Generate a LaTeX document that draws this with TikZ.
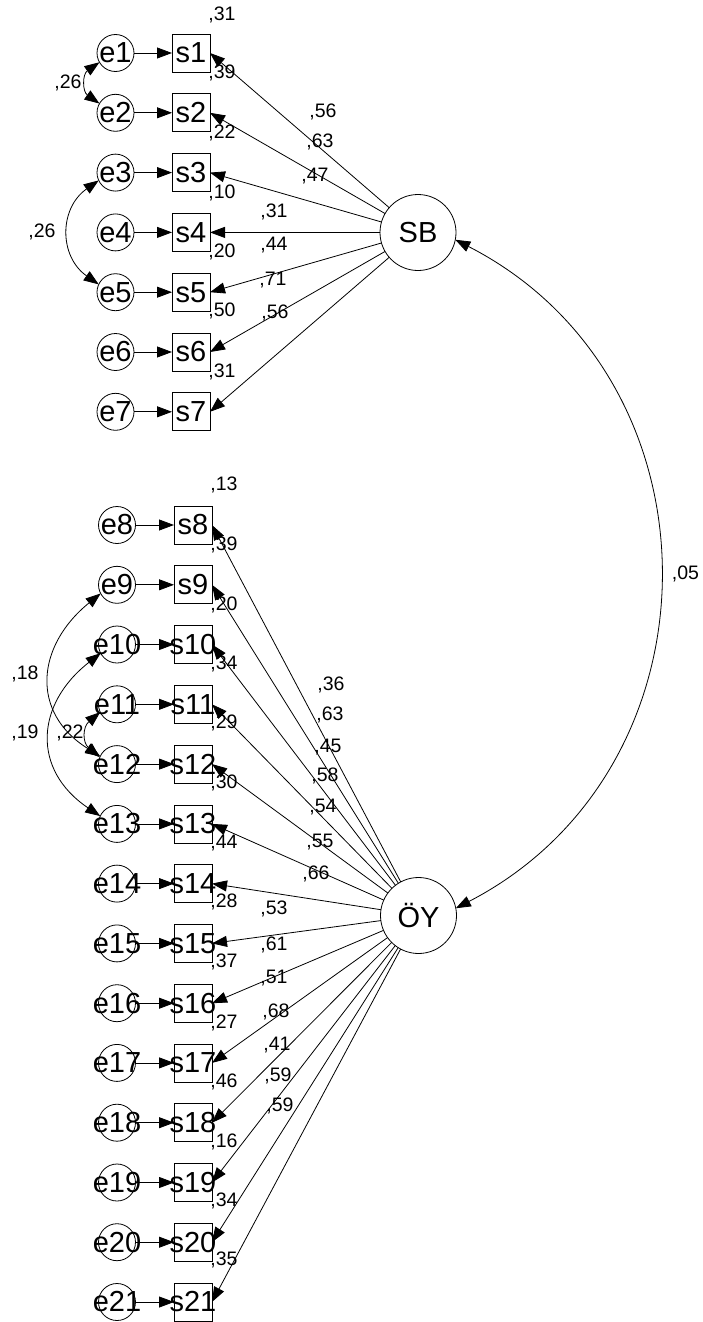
\documentclass[tikz,border=0pt]{standalone}
\usepackage{fontspec}
\setmainfont{Liberation Sans}
\usetikzlibrary{arrows.meta}
\begin{document}
\begin{tikzpicture}[x=1pt,y=1pt,
  every node/.style={inner sep=0pt, outer sep=0pt},
  big/.style={font=\fontsize{29}{29}\selectfont},
  lbl/.style={font=\fontsize{19.5}{19.5}\selectfont},
  evar/.style={draw, circle, minimum size=37pt, big, line width=0.8pt},
  obs/.style={draw, rectangle, minimum width=38pt, minimum height=38pt, big, line width=0.8pt},
  lat/.style={draw, circle, minimum size=76pt, big, line width=0.8pt},
  tip/.tip={Triangle[length=15pt,width=11pt]},
  arr/.style={-tip, line width=0.8pt},
  cov/.style={tip-tip, line width=0.8pt},
]
\useasboundingbox (0,0) rectangle (703,-1322);

% latent variables
\node[lat] (SB) at (418,-232.5) {SB};
\node[lat] (OY) at (418.5,-915.5) {ÖY};

% top block
\foreach \i/\y in {1/53,2/112.8,3/172.6,4/232.4,5/292.2,6/352,7/411.8} {
  \node[evar] (e\i) at (115.5,-\y) {\makebox[0pt]{e\i}};
  \node[obs] (s\i) at (191,-\y) {\makebox[0pt]{s\i}};
}
% bottom block
\foreach \i/\y in {8/525,9/584.8,10/644.5,11/704.3,12/764.1,13/823.9,14/883.6,15/943.4,16/1003.2,17/1062.9,18/1122.7,19/1182.5,20/1242.2,21/1302} {
  \node[evar] (e\i) at (117,-\y) {\makebox[0pt]{e\i}};
  \node[obs] (s\i) at (193,-\y) {\makebox[0pt]{s\i}};
}

% error paths
\foreach \i in {1,...,21} \draw[arr] (e\i) -- (s\i);
% loadings
\foreach \i in {1,...,7} \draw[arr] (SB) -- (s\i.east);
\foreach \i in {8,...,21} \draw[arr] (OY) -- (s\i.east);

% covariances
\draw[cov] (e1.210) to[out=215,in=145,looseness=1.3] (e2.150);
\draw[cov] (e3.205) to[out=215,in=145,looseness=1.2] (e5.155);
\draw[cov] (e9.208) to[out=219,in=148,looseness=1.3] (e12.155);
\draw[cov] (e10.208) to[out=218,in=146,looseness=1.3] (e13.155);
\draw[cov] (e11.205) to[out=220,in=140,looseness=1.3] (e12.158);
\draw[cov] (SB.-11) .. controls (727,-379) and (727,-768) .. (OY.11);

% squared multiple correlations
\foreach \n/\x/\y/\t in {r1/222/15/31,r2/222/73/39,r3/222/133/22,r4/222/193/10,r5/222/252/20,r6/222/311/50,r7/222/372/31,
  r8/224/485/13,r9/224/545/39,r10/224/605/20,r11/224/664/34,r12/224/723/29,r13/224/783/30,r14/224/843/44,r15/224/902/28,r16/224/962/37,r17/224/1023/27,r18/224/1082/46,r19/224/1142/16,r20/224/1201/34,r21/224/1260/35}
  \node[lbl] (\n) at (\x,-\y) {,\t};

% loadings labels
\foreach \n/\x/\y/\t in {w1/323/112/56,w2/320/142/63,w3/315/176/47,w4/274/212/31,w5/274/245/44,w6/273/280/71,w7/275/313/56,
  w8/331/685/36,w9/330/715/63,w10/328/747/45,w11/325/776/58,w12/323/807/54,w13/320/842/55,w14/316/874/66,w15/274/909/53,w16/274/945/61,w17/274/978/51,w18/276/1012/68,w19/277/1045/41,w20/278/1076/59,w21/280/1106/59}
  \node[lbl] (\n) at (\x,-\y) {,\t};

% covariance labels
\foreach \n/\x/\y/\t in {c1/68/83/26,c2/42/232/26,c3/25/674/18,c4/25/733/19,c5/70/733/22,c6/685.5/574/05}
  \node[lbl] (\n) at (\x,-\y) {,\t};
\end{tikzpicture}
\end{document}
